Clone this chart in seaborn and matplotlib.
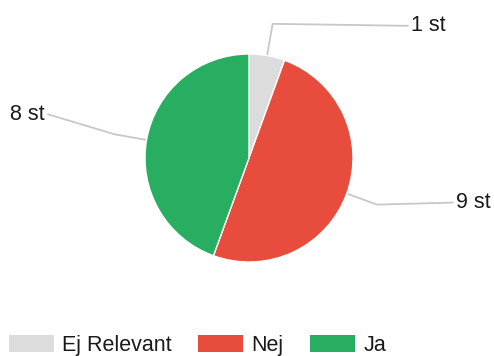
import numpy as np
import matplotlib
matplotlib.use("Agg")
import matplotlib.pyplot as plt
import seaborn as sns

sns.set_theme(style="white")
plt.rcParams["font.family"] = ["Liberation Sans", "DejaVu Sans"]

# Survey answers
categories = ["Ej Relevant", "Nej", "Ja"]
counts = [1, 9, 8]
labels = ["1 st", "9 st", "8 st"]
colors = ["#dcdcdc", "#e74c3c", "#27ae60"]

W, H = 494, 356
fig = plt.figure(figsize=(W / 100, H / 100), dpi=100)
ax = fig.add_axes([0, 0, 1, 1])

cx, cy, r = 249, H - 158, 104
wedges, _ = ax.pie(counts, colors=colors, startangle=90, counterclock=False,
                   center=(cx, cy), radius=r, frame=True,
                   wedgeprops=dict(linewidth=1.0, edgecolor="white"))
ax.set_xlim(0, W)
ax.set_ylim(0, H)
ax.set_aspect("equal")
ax.axis("off")

# Leader lines: edge -> elbow -> horizontal run to label
label_x = {"1 st": (408, 411, "left"), "9 st": (453, 456, "left"), "8 st": (48, 45, "right")}
fs = 15.5
for w, lab in zip(wedges, labels):
    mid = np.deg2rad((w.theta1 + w.theta2) / 2)
    ex, ey = cx + r * np.cos(mid), cy + r * np.sin(mid)
    bx, by = cx + 1.31 * r * np.cos(mid), cy + 1.31 * r * np.sin(mid)
    end_x, tx, ha = label_x[lab]
    if lab == "8 st":
        end_y = by + 20
    else:
        end_y = by - 2 if lab == "1 st" else by + 2
    ax.plot([ex, bx, end_x], [ey, by, end_y], color="#c8c8c8", lw=1.3,
            solid_joinstyle="miter", zorder=0)
    ax.text(tx, end_y, lab, ha=ha, va="center", fontsize=fs, color="#1a1a1a")

leg = fig.legend(wedges, categories, ncol=3, loc="lower left",
                 bbox_to_anchor=(9 / W, 0), frameon=False, fontsize=fs,
                 handlelength=2.1, handleheight=0.78, handletextpad=0.38,
                 columnspacing=1.22, borderpad=0, borderaxespad=0)
for t in leg.get_texts():
    t.set_color("#1a1a1a")
for h in leg.legend_handles:
    h.set_edgecolor("none")

fig.savefig("out.png", dpi=100, facecolor="white")
